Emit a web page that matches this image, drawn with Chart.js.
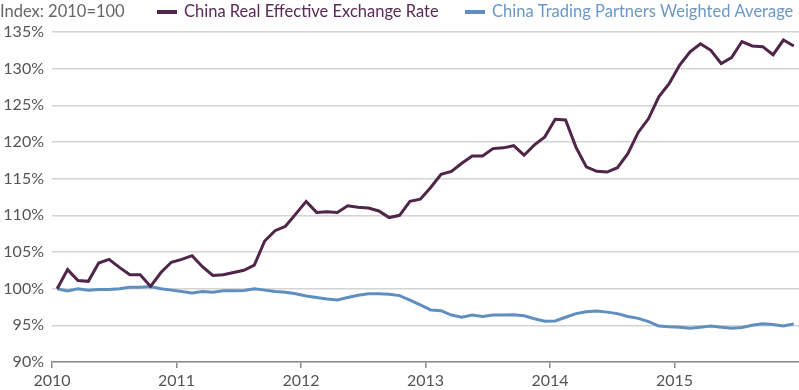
<!DOCTYPE html>
<html>
<head>
<meta charset="utf-8">
<script src="https://cdn.jsdelivr.net/npm/chart.js@4.4.1/dist/chart.umd.min.js"></script>
<style>
  html, body { margin: 0; padding: 0; background: #fff; }
  #wrap { width: 799px; height: 390px; position: relative; }
</style>
</head>
<body>
<div id="wrap"><canvas id="c" width="799" height="390"></canvas></div>
<script>
// ---- Data (monthly, Jan 2010 – Dec 2015) ----
const startYear = 2010;
const yearLabels = ["2010", "2011", "2012", "2013", "2014", "2015"];
const seriesNames = ["China Real Effective Exchange Rate", "China Trading Partners Weighted Average"];
const indexNote = "Index: 2010=100";

const chinaREER = [
  100.0, 102.6, 101.1, 101.0, 103.5, 104.0, 102.9, 101.9, 101.9, 100.3, 102.2, 103.6,
  104.0, 104.5, 103.0, 101.8, 101.9, 102.2, 102.5, 103.2, 106.5, 107.9, 108.5, 110.2,
  111.9, 110.4, 110.5, 110.4, 111.3, 111.1, 111.0, 110.6, 109.7, 110.0, 111.9, 112.2,
  113.8, 115.6, 116.0, 117.1, 118.1, 118.1, 119.1, 119.2, 119.5, 118.2, 119.6, 120.7,
  123.1, 123.0, 119.3, 116.6, 116.0, 115.9, 116.5, 118.4, 121.3, 123.2, 126.2, 128.0,
  130.5, 132.3, 133.4, 132.5, 130.7, 131.5, 133.7, 133.1, 133.0, 131.9, 133.9, 133.1
];
const partnersAvg = [
  100.0, 99.7, 100.0, 99.8, 99.9, 99.9, 100.0, 100.2, 100.2, 100.3, 100.0, 99.8,
  99.6, 99.4, 99.6, 99.5, 99.7, 99.7, 99.75, 100.0, 99.8, 99.6, 99.5, 99.3,
  99.0, 98.8, 98.6, 98.45, 98.8, 99.1, 99.3, 99.3, 99.25, 99.05, 98.45, 97.8,
  97.1, 97.0, 96.4, 96.1, 96.4, 96.2, 96.4, 96.4, 96.45, 96.3, 95.9, 95.55,
  95.6, 96.1, 96.6, 96.85, 96.95, 96.8, 96.6, 96.2, 95.95, 95.5, 94.9, 94.8,
  94.75, 94.6, 94.75, 94.9, 94.75, 94.6, 94.7, 95.0, 95.2, 95.1, 94.9, 95.2
];

const colors = ["#4f2549", "#5f8fc1"];
const textColors = ["#5a2a56", "#6b97c7"];
const FONT = "Lato, 'Open Sans', sans-serif";

// points sit mid-month on a month-index axis
const toPoints = arr => arr.map((v, i) => ({ x: i + 0.5, y: v }));

const headerPlugin = {
  id: 'header',
  afterDraw(chart) {
    const ctx = chart.ctx;
    ctx.save();
    ctx.textBaseline = "middle";
    ctx.textAlign = "left";
    const y = 12;
    ctx.font = "16.5px " + FONT;
    ctx.fillStyle = "#666666";
    ctx.fillText(indexNote, 0, y);
    const starts = [157, 465];
    chart.data.datasets.forEach((ds, k) => {
      const x = starts[k];
      ctx.strokeStyle = ds.borderColor;
      ctx.lineWidth = 4;
      ctx.beginPath();
      ctx.moveTo(x, y);
      ctx.lineTo(x + 20, y);
      ctx.stroke();
      ctx.fillStyle = textColors[k];
      ctx.fillText(ds.label, x + 27, y);
    });
    ctx.restore();
  }
};

new Chart(document.getElementById('c'), {
  type: 'line',
  data: {
    datasets: [
      { label: seriesNames[0], data: toPoints(chinaREER), borderColor: colors[0], borderWidth: 3, pointRadius: 0, tension: 0, fill: false },
      { label: seriesNames[1], data: toPoints(partnersAvg), borderColor: colors[1], borderWidth: 3, pointRadius: 0, tension: 0, fill: false }
    ]
  },
  options: {
    responsive: false,
    animation: false,
    layout: { padding: { top: 32, right: 0, left: 0, bottom: 0 } },
    plugins: { legend: { display: false }, tooltip: { enabled: false } },
    scales: {
      x: {
        type: 'linear',
        min: 0,
        max: yearLabels.length * 12,
        afterBuildTicks(scale) {
          scale.ticks = yearLabels.map((_, i) => ({ value: i * 12 }));
        },
        afterFit(scale) { scale.height = 28; },
        ticks: {
          autoSkip: false,
          maxRotation: 0,
          padding: 3,
          color: "#555555",
          font: { family: FONT, size: 16 },
          callback: (v) => yearLabels[Math.round(v / 12)] ?? ""
        },
        grid: { drawOnChartArea: false, drawTicks: true, tickLength: 6, color: "#8a8a8a", lineWidth: 1.5 },
        border: { display: true, color: "#8a8a8a", width: 1.5 }
      },
      y: {
        min: 90,
        max: 135,
        afterFit(scale) { scale.width = 52; },
        ticks: {
          stepSize: 5,
          padding: 8,
          color: "#555555",
          font: { family: FONT, size: 16 },
          callback: (v) => v + "%"
        },
        grid: { drawTicks: false, color: "#d4d4d4", lineWidth: 1.5 },
        border: { display: false }
      }
    }
  },
  plugins: [headerPlugin]
});
</script>
</body>
</html>
